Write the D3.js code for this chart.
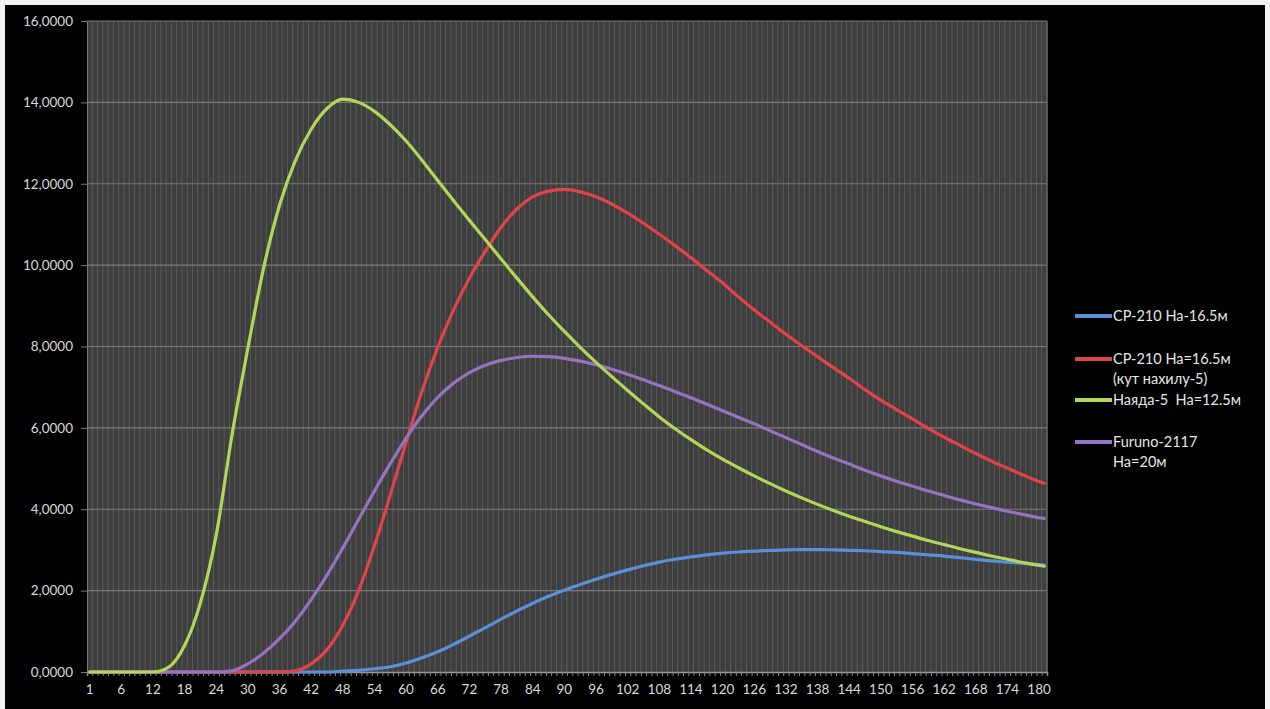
<!DOCTYPE html>
<html>
<head>
<meta charset="utf-8">
<script src="https://cdn.jsdelivr.net/npm/d3@7"></script>
<style>
  html, body { margin: 0; padding: 0; background: #000; }
  svg { display: block; }
</style>
</head>
<body>
<svg id="chart" width="1270" height="709"></svg>
<script>
// Category positions (0-based index along the axis) at which each curve is sampled
const sampleIdx = [0,3,6,9,12,15,18,21,24,27,30,33,36,39,42,45,48,51,54,57,60,63,66,69,72,75,78,81,84,87,90,93,96,99,102,105,108,111,114,117,120,123,126,129,132,135,138,141,144,147,150,153,156,159,162,165,168,171,174,177,180,181];

// Series values
const cp210 = [0,0,0,0,0,0,0,0,0,0,0,0,0,0,0,0,0.02,0.04,0.08,0.13,0.22,0.35,0.5,0.68,0.88,1.09,1.3,1.5,1.69,1.86,2.01,2.15,2.28,2.4,2.51,2.61,2.7,2.77,2.83,2.88,2.92,2.95,2.97,2.99,3.0,3.01,3.01,3.0,2.99,2.98,2.96,2.94,2.91,2.88,2.85,2.81,2.77,2.73,2.7,2.67,2.64,2.63];
const cp210tilt = [0,0,0,0,0,0,0,0,0,0,0,0,0,0.03,0.2,0.55,1.15,2.0,3.1,4.35,5.65,6.9,7.98,8.9,9.68,10.34,10.93,11.38,11.68,11.82,11.86,11.8,11.68,11.5,11.28,11.03,10.76,10.48,10.18,9.87,9.56,9.22,8.9,8.6,8.3,8.02,7.75,7.48,7.22,6.94,6.68,6.45,6.22,5.99,5.77,5.57,5.37,5.18,5.01,4.84,4.68,4.64];
const nayada5 = [0,0,0,0,0,0.12,0.65,1.7,3.37,5.83,7.96,9.94,11.47,12.57,13.34,13.85,14.08,14.0,13.78,13.45,13.05,12.58,12.08,11.58,11.1,10.63,10.15,9.68,9.22,8.78,8.37,7.98,7.61,7.26,6.92,6.59,6.27,5.98,5.71,5.46,5.23,5.02,4.82,4.63,4.45,4.28,4.12,3.97,3.83,3.7,3.57,3.45,3.34,3.23,3.13,3.03,2.94,2.85,2.77,2.69,2.62,2.6];
const furuno = [0,0,0,0,0,0,0,0,0,0.03,0.2,0.47,0.82,1.25,1.78,2.38,3.05,3.75,4.45,5.12,5.75,6.3,6.75,7.1,7.36,7.54,7.66,7.73,7.76,7.75,7.71,7.64,7.55,7.44,7.32,7.18,7.04,6.89,6.74,6.58,6.42,6.26,6.1,5.93,5.76,5.59,5.42,5.26,5.11,4.96,4.82,4.69,4.57,4.45,4.34,4.23,4.13,4.04,3.95,3.87,3.79,3.77];

const seriesNames = [["СР-210 На-16.5м"], ["СР-210 На=16.5м", "(кут нахилу-5)"], ["Наяда-5  На=12.5м"], ["Furuno-2117", "На=20м"]];
const seriesColors = ["#5b8fd8", "#e2434b", "#b3d65a", "#9573c2"];
const seriesData = [cp210, cp210tilt, nayada5, furuno];

// Axis: 182 categories, labelled every 6th
const categoryCount = 182;
const tickIdx = [0,6,12,18,24,30,36,42,48,54,60,66,72,78,84,90,96,102,108,114,120,126,132,138,144,150,156,162,168,174,180];
const tickText = ["1","6","12","18","24","30","36","42","48","54","60","66","72","78","84","90","96","102","108","114","120","126","132","138","144","150","156","162","168","174","180"];
const yTicks = [0,2,4,6,8,10,12,14,16];

const svg = d3.select("#chart");
const W = 1270, H = 709;
const plot = { left: 87, right: 1047, top: 21, bottom: 672 };

// outer frame
svg.append("rect").attr("x", 0).attr("y", 0).attr("width", W).attr("height", H).attr("fill", "#f2f2f2");
svg.append("rect").attr("x", 5).attr("y", 5).attr("width", W - 10).attr("height", H - 5).attr("fill", "#000");

const x = d3.scaleLinear().domain([-0.5, categoryCount - 0.5]).range([plot.left, plot.right]);
const y = d3.scaleLinear().domain([0, 16]).range([plot.bottom, plot.top]);

// plot area
svg.append("rect")
  .attr("x", plot.left).attr("y", plot.top)
  .attr("width", plot.right - plot.left).attr("height", plot.bottom - plot.top)
  .attr("fill", "#3e3e3e");

// vertical gridlines at every category boundary
const bounds = d3.range(1, categoryCount).map(i => i - 0.5);
svg.append("g").selectAll("line").data(bounds).join("line")
  .attr("x1", d => x(d)).attr("x2", d => x(d))
  .attr("y1", plot.top).attr("y2", plot.bottom)
  .attr("stroke", "#5a5a5a").attr("stroke-width", 1);

// horizontal gridlines
svg.append("g").selectAll("line").data(yTicks.filter(v => v > 0)).join("line")
  .attr("x1", plot.left).attr("x2", plot.right)
  .attr("y1", d => y(d)).attr("y2", d => y(d))
  .attr("stroke", "#7a7a7a").attr("stroke-width", 1.2);

// right border of plot area
svg.append("line").attr("x1", plot.right).attr("x2", plot.right)
  .attr("y1", plot.top).attr("y2", plot.bottom)
  .attr("stroke", "#6a6a6a").attr("stroke-width", 1.5);

// Y axis
const yAxis = d3.axisLeft(y).tickValues(yTicks).tickSize(6).tickPadding(8)
  .tickFormat(d => d3.format(".4f")(d).replace(".", ","));
const gy = svg.append("g").attr("transform", `translate(${plot.left},0)`).call(yAxis);
gy.select(".domain").attr("stroke", "#7a7a7a");
gy.selectAll(".tick line").attr("stroke", "#7a7a7a");
gy.selectAll(".tick text")
  .attr("fill", "#d9d9d9").style("font-family", "Lato, 'Open Sans', sans-serif").style("font-size", "13.5px");

// X axis: small ticks at each category boundary, labels every 6th category
const xAxis = d3.axisBottom(x).tickValues(d3.range(0, categoryCount + 1).map(i => i - 0.5)).tickSize(4).tickFormat("");
const gx = svg.append("g").attr("transform", `translate(0,${plot.bottom})`).call(xAxis);
gx.select(".domain").attr("stroke", "#9a9a9a").attr("stroke-width", 1.5);
gx.selectAll(".tick line").attr("stroke", "#8a8a8a");

svg.append("g").selectAll("text").data(tickIdx).join("text")
  .attr("x", d => x(d)).attr("y", plot.bottom + 22)
  .attr("text-anchor", "middle")
  .attr("fill", "#d9d9d9")
  .style("font-family", "Lato, 'Open Sans', sans-serif").style("font-size", "13.5px")
  .text((d, i) => tickText[i]);

// curves
const line = d3.line()
  .x((d, i) => x(sampleIdx[i]))
  .y(d => y(d))
  .curve(d3.curveMonotoneX);

const drawOrder = [0, 1, 3, 2];
svg.append("g").selectAll("path").data(drawOrder).join("path")
  .attr("d", k => line(seriesData[k]))
  .attr("fill", "none")
  .attr("stroke", k => seriesColors[k])
  .attr("stroke-width", 3.2)
  .attr("stroke-linejoin", "round")
  .attr("stroke-linecap", "round");

// legend
const legendY = [316, 359, 400, 442];
const lg = svg.append("g");
seriesNames.forEach((lines, k) => {
  lg.append("line")
    .attr("x1", 1075).attr("x2", 1112)
    .attr("y1", legendY[k]).attr("y2", legendY[k])
    .attr("stroke", seriesColors[k]).attr("stroke-width", 4);
  lines.forEach((t, j) => {
    lg.append("text")
      .attr("x", 1113).attr("y", legendY[k] + 5 + j * 20)
      .attr("fill", "#e6e6e6")
      .style("white-space", "pre")
      .style("font-family", "Lato, 'Open Sans', sans-serif").style("font-size", "14.5px")
      .text(t);
  });
});
</script>
</body>
</html>
